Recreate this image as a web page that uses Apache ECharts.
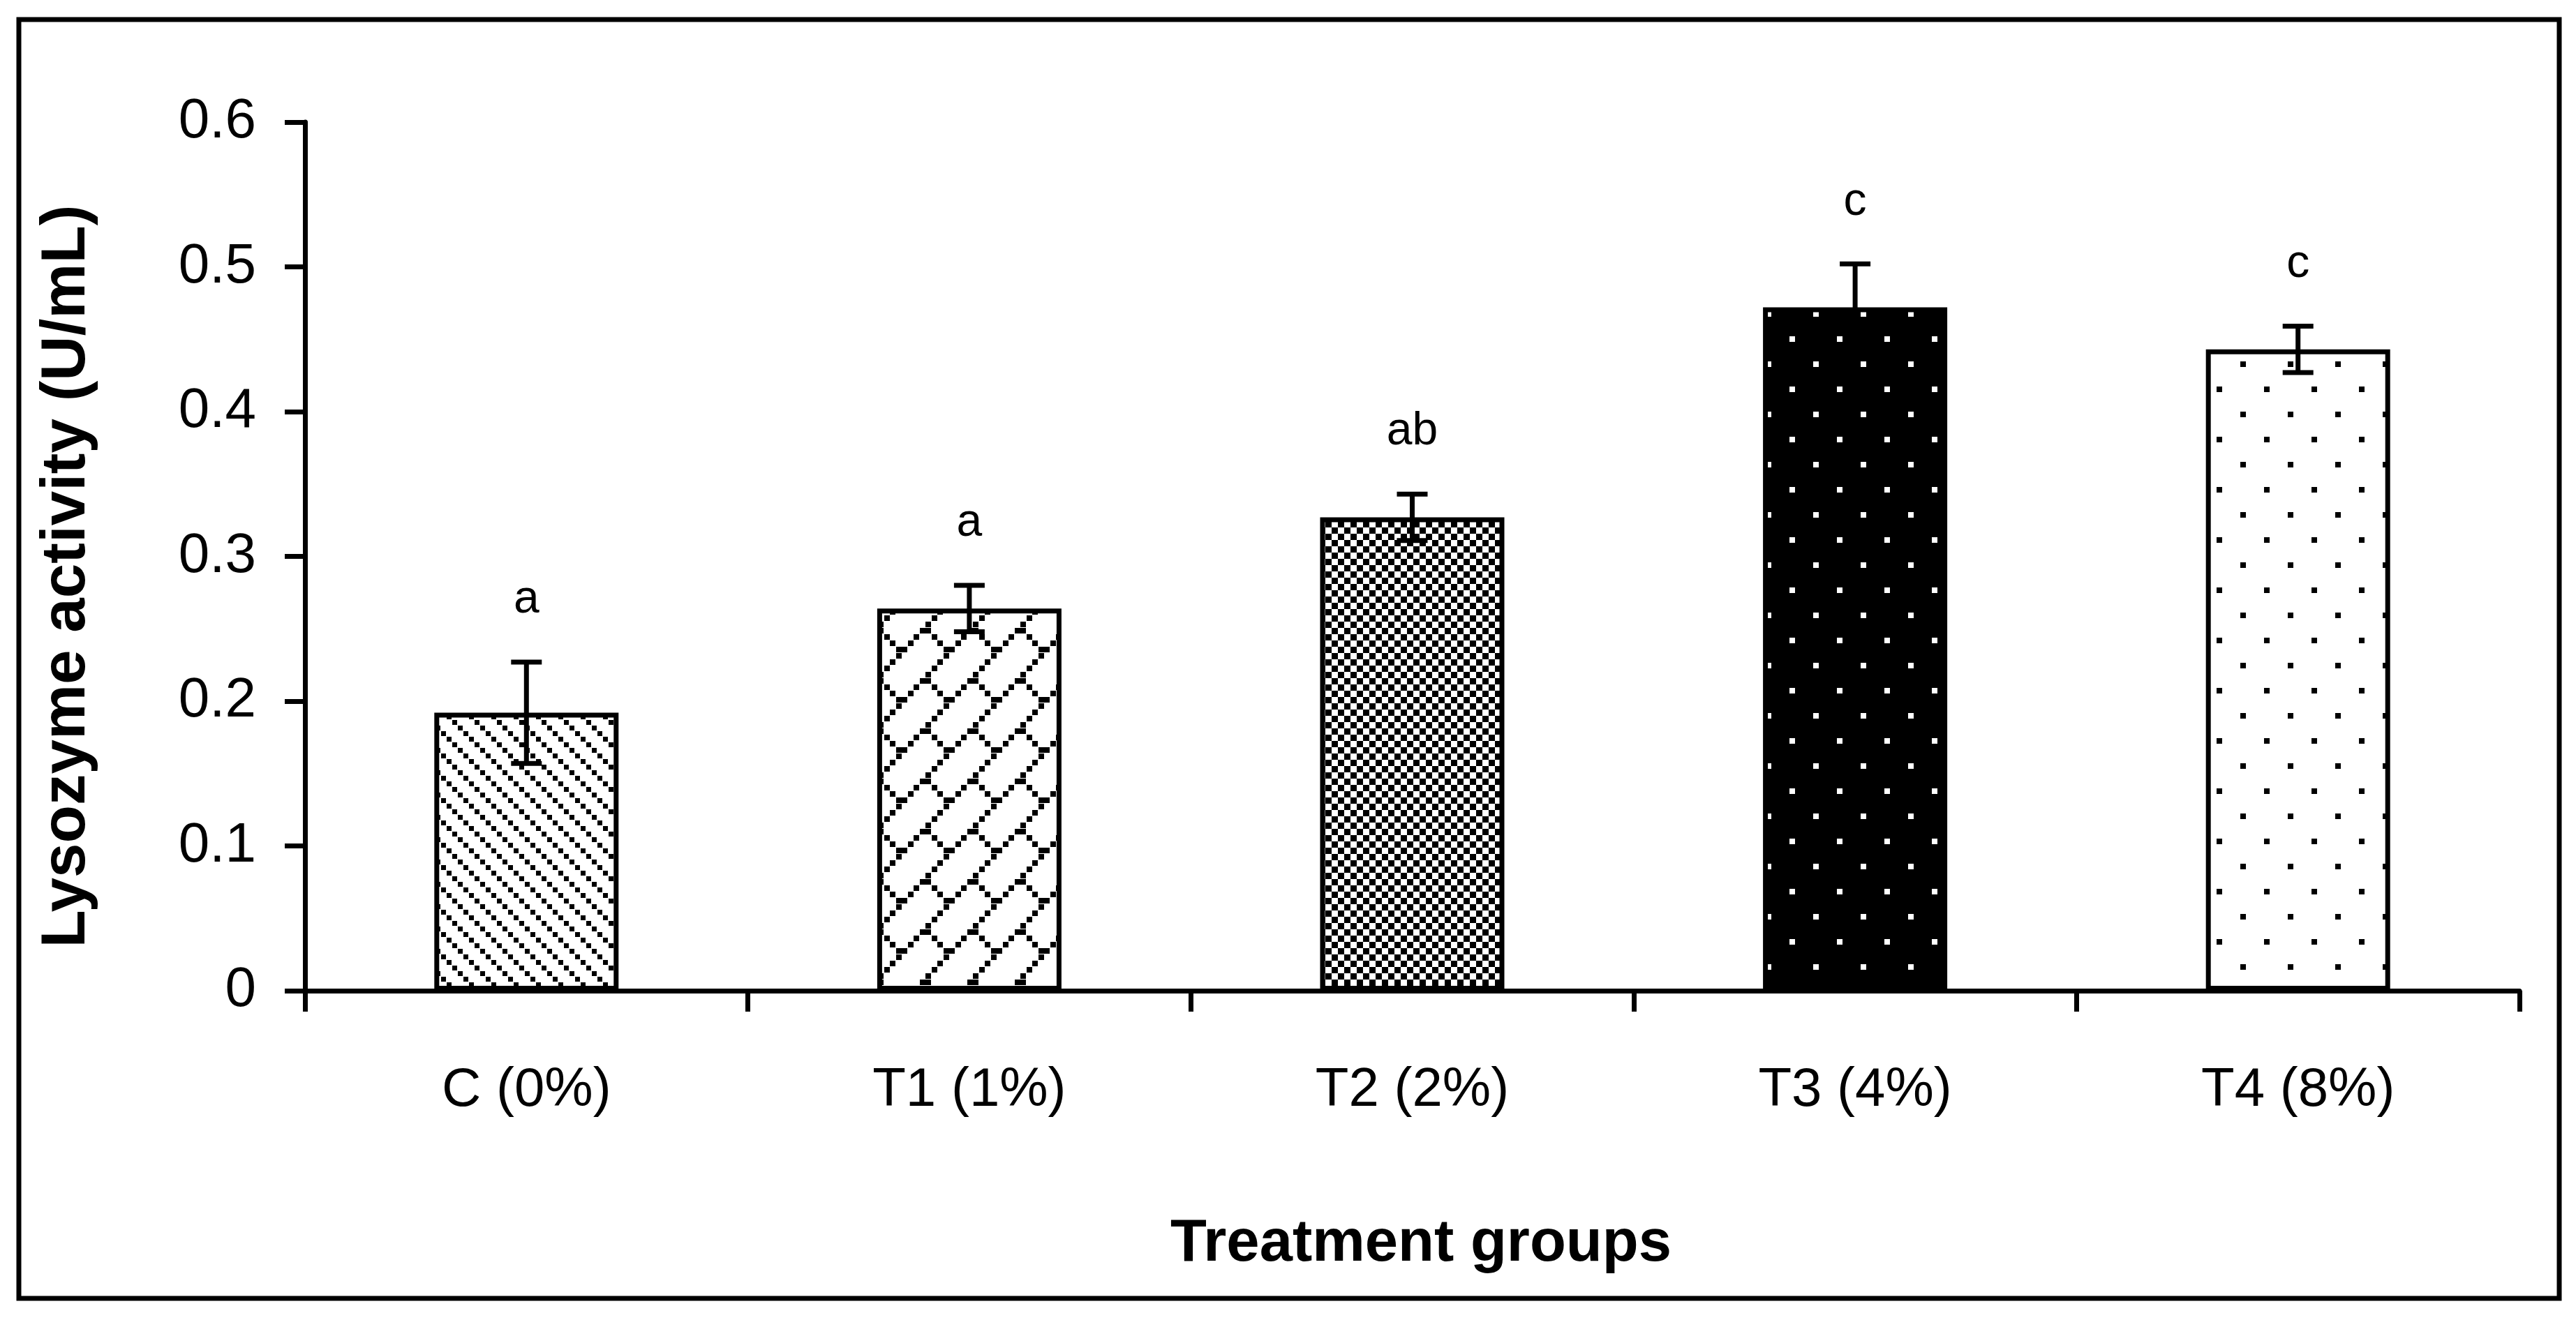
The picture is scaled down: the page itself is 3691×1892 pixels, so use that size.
<!DOCTYPE html>
<html><head><meta charset="utf-8">
<script src="https://cdn.jsdelivr.net/npm/echarts@6/dist/echarts.min.js"></script>
<style>html,body{margin:0;padding:0;background:#fff}#c{width:3691px;height:1892px}</style>
</head><body><div id="c"></div>
<script>
// ---- data ----
const categories = ['C (0%)', 'T1 (1%)', 'T2 (2%)', 'T3 (4%)', 'T4 (8%)'];
const means = [0.192, 0.264, 0.327, 0.472, 0.443];
const errors = [0.035, 0.016, 0.016, 0.030, 0.016];
const letters = ['a', 'a', 'ab', 'c', 'c'];
const yMin = 0, yMax = 0.6, yStep = 0.1;
const patternKinds = ['diag', 'brick', 'checker', 'darkdots', 'lightdots'];

// ---- patterns ----
function makePattern(kind) {
  const c = document.createElement('canvas');
  let ctx;
  if (kind === 'diag') {
    c.width = 32; c.height = 32; ctx = c.getContext('2d');
    ctx.fillStyle = '#fff'; ctx.fillRect(0, 0, 32, 32);
    ctx.fillStyle = '#000';
    for (let k = 0; k < 4; k++) ctx.fillRect(k * 8, k * 8, 7, 7);
  } else if (kind === 'brick') {
    const ux = 8.5, uy = 9;
    c.width = 68; c.height = 72; ctx = c.getContext('2d');
    ctx.fillStyle = '#fff'; ctx.fillRect(0, 0, 68, 72);
    ctx.fillStyle = '#000';
    const cells = [[7,0],[6,1],[5,2],[4,3],[3,4],[4,4],[2,5],[5,5],[1,6],[6,6],[0,7],[7,7]];
    cells.forEach(([cx, cy]) => ctx.fillRect(Math.round(cx * ux), Math.round(cy * uy), 8, 8));
  } else if (kind === 'checker') {
    c.width = 18; c.height = 18; ctx = c.getContext('2d');
    ctx.fillStyle = '#fff'; ctx.fillRect(0, 0, 18, 18);
    ctx.fillStyle = '#000';
    ctx.fillRect(0, 0, 9, 9); ctx.fillRect(9, 9, 9, 9);
  } else {
    const dark = kind === 'darkdots';
    c.width = 68; c.height = 72; ctx = c.getContext('2d');
    ctx.fillStyle = dark ? '#000' : '#fff'; ctx.fillRect(0, 0, 68, 72);
    ctx.fillStyle = dark ? '#fff' : '#000';
    ctx.fillRect(14, 14, 8, 8); ctx.fillRect(48, 50, 8, 8);
  }
  return c;
}

const FONT = '"Liberation Sans", Arial, sans-serif';
const chart = echarts.init(document.getElementById('c'), null, { renderer: 'canvas' });

const barData = means.map((m, i) => ({
  value: m,
  itemStyle: { color: { image: makePattern(patternKinds[i]), repeat: 'repeat' } }
}));
const errData = means.map((m, i) => [i, m, errors[i]]);

chart.setOption({
  backgroundColor: '#fff',
  animation: false,
  grid: { left: 437, right: 81, top: 175, bottom: 472, containLabel: false },
  xAxis: {
    type: 'category',
    data: categories,
    boundaryGap: true,
    axisLine: { lineStyle: { color: '#000', width: 7 } },
    axisTick: { show: true, alignWithLabel: false, length: 30, lineStyle: { color: '#000', width: 7 } },
    axisLabel: { color: '#000', fontSize: 78, fontFamily: FONT, margin: 104 },
    splitLine: { show: false }
  },
  yAxis: {
    type: 'value',
    min: yMin, max: yMax, interval: yStep,
    axisLine: { show: true, lineStyle: { color: '#000', width: 7 } },
    axisTick: { show: true, inside: false, length: 29, lineStyle: { color: '#000', width: 7 } },
    axisLabel: { color: '#000', fontSize: 80, fontFamily: FONT, margin: 70,
      formatter: v => (Math.round(v * 10) / 10).toString() },
    splitLine: { show: false }
  },
  graphic: [
    { type: 'rect', shape: { x: 27, y: 28, width: 3640, height: 1833 },
      style: { fill: 'none', stroke: '#000', lineWidth: 7 }, z: 100 },
    { type: 'text', x: 96, y: 826, rotation: Math.PI / 2,
      style: { text: 'Lysozyme activity (U/mL)', font: 'bold 89px ' + FONT, fill: '#000',
        textAlign: 'center', textVerticalAlign: 'middle' } },
    { type: 'text', x: 2036, y: 1784,
      style: { text: 'Treatment groups', font: 'bold 85px ' + FONT, fill: '#000',
        textAlign: 'center', textVerticalAlign: 'middle' } }
  ],
  series: [
    {
      type: 'bar',
      data: barData,
      barWidth: 264,
      itemStyle: { borderColor: '#000', borderWidth: 7 },
      z: 2
    },
    {
      type: 'custom',
      data: errData,
      z: 5,
      renderItem: function (params, api) {
        const i = api.value(0), m = api.value(1), e = api.value(2);
        const top = api.coord([i, m + e]);
        const bot = api.coord([i, m - e]);
        const half = 22;
        const ls = { stroke: '#000', lineWidth: 7 };
        return {
          type: 'group',
          children: [
            { type: 'line', shape: { x1: top[0], y1: top[1], x2: bot[0], y2: bot[1] }, style: ls },
            { type: 'line', shape: { x1: top[0] - half, y1: top[1], x2: top[0] + half, y2: top[1] }, style: ls },
            { type: 'line', shape: { x1: bot[0] - half, y1: bot[1], x2: bot[0] + half, y2: bot[1] }, style: ls },
            { type: 'text', x: top[0], y: top[1] - 56,
              style: { text: letters[params.dataIndex], font: '66px ' + FONT, fill: '#000',
                textAlign: 'center', textVerticalAlign: 'bottom' } }
          ]
        };
      }
    }
  ]
});
</script>
</body></html>
